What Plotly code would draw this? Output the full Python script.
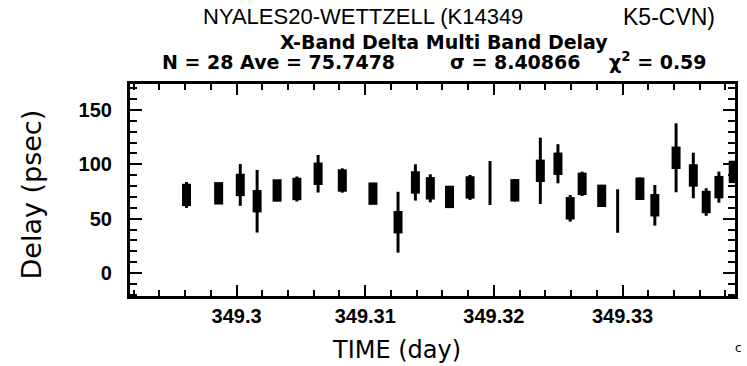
import plotly.graph_objects as go

# Scan times (day of year) and delay residuals (psec) with 1-sigma errors
time_day = [349.29611, 349.29861, 349.30029, 349.30160, 349.30315, 349.30469,
            349.30634, 349.30822, 349.31060, 349.31255, 349.31390, 349.31506,
            349.31655, 349.31815, 349.31970, 349.32163, 349.32361, 349.32498,
            349.32593, 349.32686, 349.32838, 349.32962, 349.33135, 349.33251,
            349.33416, 349.33550, 349.33650, 349.33749, 349.33860]
delay_ps = [71.8, 73.3, 81.0, 66.0, 75.9, 77.3, 91.3, 85.1, 73.0, 46.7,
            83.3, 77.9, 70.0, 78.7, 82.8, 76.1, 94.0, 100.5, 59.5, 82.0,
            71.0, 57.0, 77.5, 62.3, 106.0, 89.7, 65.3, 79.0, 93.0]
sigma_ps = [11.9, 9.5, 19.2, 28.8, 8.0, 11.5, 17.3, 11.2, 9.5, 28.0,
            16.7, 12.9, 9.5, 11.5, 20.2, 10.4, 30.5, 18.0, 12.3, 11.2,
            10.0, 20.0, 10.3, 18.7, 31.7, 21.0, 12.7, 14.3, 8.0]
# scans drawn with a source symbol (0 = error bar only)
has_symbol = [1, 1, 1, 1, 1, 1, 1, 1, 1, 1, 1, 1, 1, 1, 0, 1, 1, 1, 1, 1,
              1, 0, 1, 1, 1, 1, 1, 1, 1]

x_ticks = [349.30, 349.31, 349.32, 349.33]
x_tick_text = ["349.3", "349.31", "349.32", "349.33"]
y_ticks = [0, 50, 100, 150]
y_tick_text = ["0", "50", "100", "150"]
x_range = [349.29172, 349.33874]
y_range = [-21.2, 173.9]

W, H = 747, 366
L, R, T, B = 130, 9, 84, 70
PW, PH = W - L - R, H - T - B


def px(x):
    return (x - L) / PW


def py(y):
    return (H - B - y) / PH


fig = go.Figure()
fig.add_trace(go.Scatter(
    x=time_day, y=delay_ps, mode="markers",
    error_y=dict(type="data", array=sigma_ps, visible=True,
                 thickness=3, width=0, color="black"),
    marker=dict(symbol="line-ns", size=[16 * s for s in has_symbol], opacity=1,
                color="black", line=dict(width=9, color="black")),
    showlegend=False, hoverinfo="x+y",
))

tick_font = dict(family="Liberation Sans", size=20, color="black", weight="bold")
frame = dict(showline=True, linewidth=3, linecolor="black", mirror="allticks",
             ticks="inside", tickwidth=2, tickcolor="black",
             showgrid=False, zeroline=False, tickfont=tick_font)
x_minor = dict(tickmode="linear", tick0=349.29, dtick=0.002, ticklen=6,
               ticks="inside", tickwidth=2, tickcolor="black", showgrid=False)
y_minor = dict(tickmode="linear", tick0=0, dtick=10, ticklen=7,
               ticks="inside", tickwidth=2, tickcolor="black", showgrid=False)

# pad the y labels away from the frame (inside ticks leave them close to it)
y_labels = [t + "\u00a0\u00a0" for t in y_tick_text]

fig.update_layout(
    xaxis=dict(range=x_range, tickmode="array", tickvals=x_ticks, ticktext=x_tick_text,
               ticklen=11, minor=x_minor, **frame),
    yaxis=dict(range=y_range, tickmode="array", tickvals=y_ticks, ticktext=y_labels,
               ticklen=12, minor=y_minor, **frame),
)

# (text, x px, y px, anchor, size, family, weight, angle)
notes = [
    ("NYALES20-WETTZELL (K14349", 201, 17, "left", 22, "Liberation Sans", "normal", 0),
    ("K5-CVN)", 720, 17, "right", 23, "Liberation Sans", "normal", 0),
    ("X-Band Delta Multi Band Delay", 446, 42, "center", 19, "DejaVu Sans", "bold", 0),
    ("N = 28 Ave = 75.7478", 160, 62, "left", 19, "DejaVu Sans", "bold", 0),
    ("σ = 8.40866", 450, 62, "left", 19, "DejaVu Sans", "bold", 0),
    ("χ<sup>2</sup> = 0.59", 712, 61, "right", 19, "DejaVu Sans", "bold", 0),
    ("TIME (day)", 398, 350, "center", 24, "DejaVu Sans", "normal", 0),
    ("c", 747, 348, "right", 12, "DejaVu Sans", "normal", 0),
    ("Delay (psec)", 31, 194, "center", 27, "DejaVu Sans", "normal", -90),
]
annotations = []
for text, x, y, anchor, size, family, weight, angle in notes:
    annotations.append(dict(text=text, x=px(x), y=py(y), xref="paper", yref="paper",
                            xanchor=anchor, yanchor="middle", showarrow=False,
                            textangle=angle,
                            font=dict(size=size, family=family, weight=weight,
                                      color="black")))

fig.update_layout(width=W, height=H, margin=dict(l=L, r=R, t=T, b=B),
                  paper_bgcolor="white", plot_bgcolor="white",
                  annotations=annotations)

fig.write_html("out.html")
